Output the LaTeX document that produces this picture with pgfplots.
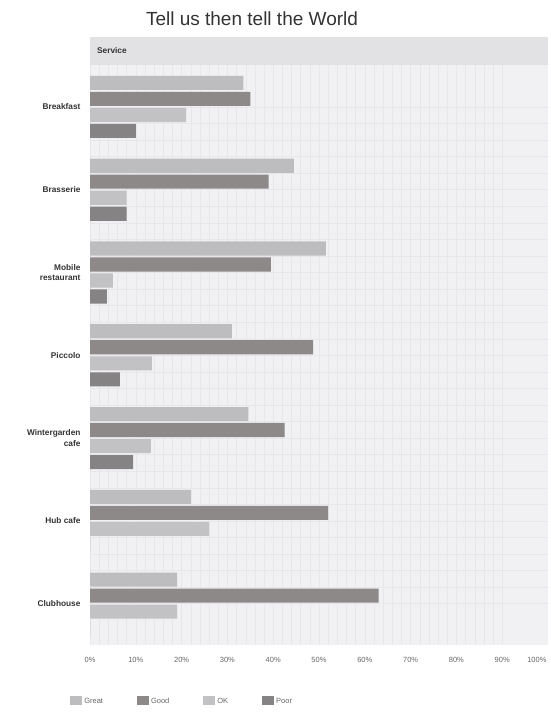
\documentclass[border=0pt]{standalone}
\usepackage{fontspec}
\setmainfont{Liberation Sans}
\usepackage{pgfplots}
\pgfplotsset{compat=1.18}
\definecolor{cGreat}{HTML}{BDBCBE}
\definecolor{cGood}{HTML}{8E8989}
\definecolor{cOK}{HTML}{C2C1C3}
\definecolor{cPoor}{HTML}{858384}
\definecolor{cBack}{HTML}{F1F0F3}
\definecolor{cGrid}{HTML}{E7E6EA}
\definecolor{cBand}{HTML}{E2E1E3}
\begin{document}
\begin{tikzpicture}[x=1pt,y=1pt]
\begin{axis}[
  at={(90pt,77pt)}, anchor=south west,
  scale only axis, width=458pt, height=608pt,
  xmin=0, xmax=100,
  ymin=-0.845, ymax=6.5, y dir=reverse,
  axis background/.style={fill=cBack},
  axis line style={draw=none},
  xbar, bar width=0.17,
  xtick={0,10,...,90},
  extra x ticks={100},
  extra x tick style={xticklabel style={anchor=north east, xshift=2pt}, grid=none},
  xticklabel={\pgfmathprintnumber{\tick}\%},
  /pgf/number format/assume math mode=true,
  xticklabel style={font=\fontsize{7.5}{8}\selectfont, text=black!60, yshift=-9pt},
  minor x tick num=4,
  grid=both,
  major grid style={cGrid, line width=0.5pt},
  minor grid style={cGrid, line width=0.4pt},
  minor y tick num=4,
  ytick={0,...,6},
  yticklabels={Breakfast, Brasserie, {Mobile\\restaurant}, Piccolo, {Wintergarden\\cafe}, Hub cafe, Clubhouse},
  yticklabel style={font=\bfseries\fontsize{8.3}{10.5}\selectfont, align=right, text=black!80, xshift=-6pt},
  major tick length=0pt, minor tick length=0pt,
  legend style={at={(-0.05,-0.08)}, anchor=north west, draw=none, fill=none,
    legend columns=4, font=\fontsize{7.5}{8}\selectfont, text=black!60,
    /tikz/every even column/.append style={column sep=32pt}},
  legend image code/.code={\fill[#1] (0pt,-4pt) rectangle (12pt,5pt);},
  clip=false,
]
\fill[cBand] (axis cs:0,-0.845) rectangle (axis cs:100,-0.51);
\node[anchor=west, font=\bfseries\fontsize{8.3}{9}\selectfont, text=black!80] at (axis cs:0.8,-0.68) {Service};
\addplot[fill=cGreat, draw=none, bar shift=-0.29] coordinates {(33.5,0) (44.5,1) (51.5,2) (31,3) (34.6,4) (22,5) (19,6)};
\addplot[fill=cGood, draw=none, bar shift=-0.097] coordinates {(35,0) (39,1) (39.5,2) (48.7,3) (42.5,4) (52,5) (63,6)};
\addplot[fill=cOK, draw=none, bar shift=0.097] coordinates {(21,0) (8,1) (5,2) (13.5,3) (13.3,4) (26,5) (19,6)};
\addplot[fill=cPoor, draw=none, bar shift=0.29] coordinates {(10,0) (8,1) (3.7,2) (6.5,3) (9.4,4) (0,5) (0,6)};
\legend{Great, Good, OK, Poor}
\end{axis}
\node[font=\fontsize{19}{22}\selectfont, text=black!80] at (252pt,703pt) {Tell us then tell the World};
\pgfresetboundingbox
\useasboundingbox (0,0) rectangle (550pt,722pt);
\end{tikzpicture}
\end{document}
